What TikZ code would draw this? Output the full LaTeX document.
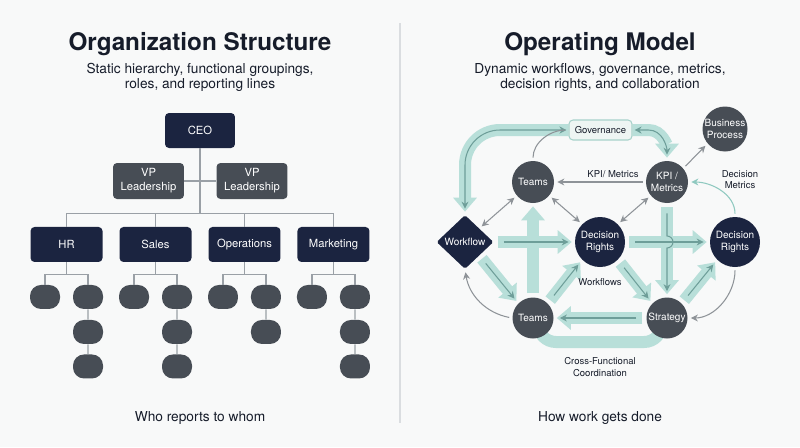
\documentclass[tikz,border=0pt]{standalone}
\usepackage{fontspec}
\setmainfont{TeX Gyre Heros}
\usetikzlibrary{arrows.meta,shapes.geometric,backgrounds}

\definecolor{navy}{HTML}{1B2440}
\definecolor{slate}{HTML}{474D55}
\definecolor{ink}{HTML}{161C2A}
\definecolor{pagebg}{HTML}{F8F9F9}
\definecolor{rulec}{HTML}{DADDE0}
\definecolor{wirec}{HTML}{9AA0A6}
\definecolor{bandc}{HTML}{B8DFD9}
\definecolor{linec}{HTML}{6E9E99}
\definecolor{grayc}{HTML}{8E9398}
\definecolor{tealc}{HTML}{8FC9C0}
\definecolor{govfill}{HTML}{EEF5F3}
\definecolor{govline}{HTML}{A8D2CB}

\newcommand{\orgtitlefont}{\fontsize{13.8}{16}\selectfont\bfseries}
\newcommand{\orgsubfont}{\fontsize{7.8}{9}\selectfont}
\newcommand{\orgboxfont}{\fontsize{6.4}{8}\selectfont}
\newcommand{\opsmallfont}{\fontsize{5.4}{6.3}\selectfont}
\newcommand{\ophubfont}{\fontsize{5.7}{6.4}\selectfont}

\tikzset{chiefbox/.style={rectangle,rounded corners=0.08cm,fill=navy,text=white,minimum width=1.4cm,minimum height=0.7cm,inner sep=0pt,font=\orgboxfont},
         deptbox/.style={chiefbox,minimum width=1.44cm},
         vpbox/.style={chiefbox,fill=slate,minimum width=1.42cm,minimum height=0.72cm,align=center},
         leafbox/.style={rectangle,rounded corners=0.22cm,fill=slate,minimum width=0.6cm,minimum height=0.48cm,inner sep=0pt},
         wire/.style={draw=wirec,line width=0.7pt},
         hub/.style={circle,fill=slate,text=white,minimum size=0.84cm,inner sep=0pt,align=center,font=\ophubfont},
         navyhub/.style={hub,fill=navy,minimum size=1cm},
         gatebox/.style={diamond,fill=navy,text=white,minimum width=1.14cm,minimum height=1.08cm,inner sep=0pt,rounded corners=1pt,font=\ophubfont},
         govbox/.style={rectangle,rounded corners=0.08cm,draw=govline,line width=0.6pt,fill=govfill,text=ink,minimum width=1.26cm,minimum height=0.4cm,font=\opsmallfont},
         band/.style={draw=bandc,line width=0.24cm,-{Triangle[width=0.46cm,length=0.28cm]},shorten <=0.08cm,shorten >=0.06cm},
         bandline/.style={draw=linec,line width=0.6pt,->,shorten <=0.2cm,shorten >=0.12cm},
         flow/.style={band,postaction={bandline}},
         link/.style={draw=grayc,line width=0.6pt,->,shorten <=0.06cm,shorten >=0.06cm},
         tlink/.style={link,draw=tealc},
         lbl/.style={font=\opsmallfont,text=ink,align=center},
         headline/.style={font=\orgtitlefont,text=ink,anchor=base},
         subline/.style={font=\orgsubfont,text=ink,anchor=base},
}

\begin{document}
\begin{tikzpicture}[x=0.02cm,y=-0.02cm,
>={Stealth[length=4pt,width=4pt]},
level 1/.style={sibling distance=1.78cm,level distance=2.28cm,
    edge from parent path={(\tikzparentnode.south) -- ++(0,65) -| (\tikzchildnode.north)}},
level 2/.style={sibling distance=0.86cm,level distance=1.05cm,
    edge from parent path={(\tikzparentnode.south) -- ++(0,12) -| (\tikzchildnode.north)}},
level 3/.style={level distance=0.7cm,
    edge from parent path={(\tikzparentnode.south) -- (\tikzchildnode.north)}},
level 4/.style={level distance=0.69cm,
    edge from parent path={(\tikzparentnode.south) -- (\tikzchildnode.north)}},
edge from parent/.style={draw=wirec,line width=0.7pt}]
\useasboundingbox (0,0) rectangle (800,447);
\begin{scope}[on background layer]
\fill[pagebg] (0,0) rectangle (800,447);
\end{scope}
% \draw[help lines] (0,0) grid[step=1cm] (800,447);
\draw[rulec,line width=0.7pt] (400,23) -- (400,423);

% left: organization structure
\node[headline] (titleL) at (200,50) {Organization Structure};
\node[subline] (subL1) at (200,73.5) {Static hierarchy, functional groupings,};
\node[subline] (subL2) at (200,88.5) {roles, and reporting lines};

\node[chiefbox] (ceo) at (200,130.5) {CEO}
    child{ node[deptbox] (hr) {HR}
        child{ node[leafbox] (hr1) {} }
        child{ node[leafbox] (hr2) {}
            child{ node[leafbox] (hr3) {}
                child{ node[leafbox] (hr4) {} } } }
    }
    child{ node[deptbox] (sales) {Sales}
        child{ node[leafbox] (sales1) {} }
        child{ node[leafbox] (sales2) {}
            child{ node[leafbox] (sales3) {}
                child{ node[leafbox] (sales4) {} } } }
    }
    child{ node[deptbox] (ops) {Operations}
        child{ node[leafbox] (ops1) {} }
        child{ node[leafbox] (ops2) {}
            child{ node[leafbox] (ops3) {} } }
    }
    child{ node[deptbox] (mkt) {Marketing}
        child{ node[leafbox] (mkt1) {} }
        child{ node[leafbox] (mkt2) {}
            child{ node[leafbox] (mkt3) {}
                child{ node[leafbox] (mkt4) {} } } }
    }
;
\node[vpbox] (vpL) at (148.5,181) {VP\\Leadership};
\node[vpbox] (vpR) at (252,181) {VP\\Leadership};
\draw[wire] (vpL.east) -- (vpR.west);

\node[subline] (footL) at (200,421) {Who reports to whom};

% right: operating model
\node[headline] (titleR) at (600,50) {Operating Model};
\node[subline] (subR1) at (600,73.5) {Dynamic workflows, governance, metrics,};
\node[subline] (subR2) at (600,88.5) {decision rights, and collaboration};

\node[govbox] (gov) at (600.5,130) {Governance};
\node[hub,minimum size=0.9cm] (bp) at (725,129) {Business\\Process};
\node[hub] (teamsT) at (533,182) {Teams};
\node[hub] (kpi) at (667,182) {KPI /\\Metrics};
\node[gatebox] (wf) at (465,242) {Workflow};
\node[navyhub] (drC) at (600,242) {Decision\\Rights};
\node[navyhub] (drR) at (735,242) {Decision\\Rights};
\node[hub,minimum size=0.82cm] (teamsB) at (533,318) {Teams};
\node[hub,minimum size=0.82cm] (strat) at (667,318) {Strategy};
\coordinate (hop) at (kpi |- drR);

\begin{scope}[on background layer]
\draw[band,shorten <=0pt,rounded corners=0.7cm] (gov.west) -| (wf.north);
\draw[bandline,<->,shorten <=0.04cm,rounded corners=0.7cm] (gov.west) -| (wf.north);
\draw[band,shorten <=0pt] (gov.east) -- ++(16,0) to[out=0,in=90] (kpi.north);
\draw[bandline,<->,shorten <=0.04cm] (gov.east) -- ++(16,0) to[out=0,in=90] (kpi.north);
\draw[band] (teamsB.north) -- (teamsT.south);
\draw[flow] (wf.east) -- (drC.west);
\draw[band] (kpi.south) -- (strat.north);
\draw[flow] (drC.east) -- (drR.west);
\draw[bandline] (kpi.south) -- ([yshift=0.12cm]hop) arc[start angle=90,end angle=-90,radius=0.12cm] -- (strat.north);
\draw[flow] (wf.south east) -- (teamsB.135);
\draw[flow] (teamsB.45) -- (drC.225);
\draw[flow] (drC.-45) -- (strat.135);
\draw[flow] (strat.45) -- (drR.225);
\draw[flow] (strat.west) -- (teamsB.east);
\draw[band,-,shorten <=0pt,shorten >=0pt,rounded corners=0.36cm] ([xshift=0.1cm]teamsB.center) |- ([xshift=-0.1cm,yshift=-0.48cm]strat.center) -- ([xshift=-0.1cm]strat.center);
\end{scope}

\draw[link] (kpi.west) -- (teamsT.east);
\draw[link,<->] (teamsT.220) -- (wf.north east);
\draw[link,<->] (teamsT.-40) -- (drC.135);
\draw[link,<->] (kpi.220) -- (drC.45);
\draw[link] (kpi.40) -- (bp.220);
\draw[link,-] (teamsT.north) to[out=90,in=180] (gov.west);
\draw[link] (teamsB.west) to[bend left=35] (wf.south);
\draw[link] (drR.south) to[out=-90,in=0] (strat.east);
\draw[tlink] (drR.north) to[out=90,in=0] (kpi.east);

\node[lbl] (kpilbl) at (613,174) {KPI/ Metrics};
\node[lbl] (dmlbl) at (740,180) {Decision\\Metrics};
\node[lbl] (wflbl) at (600,282) {Workflows};
\node[lbl] (cflbl) at (600,367) {Cross-Functional\\Coordination};

\node[subline] (footR) at (600,421) {How work gets done};
\end{tikzpicture}
\end{document}
